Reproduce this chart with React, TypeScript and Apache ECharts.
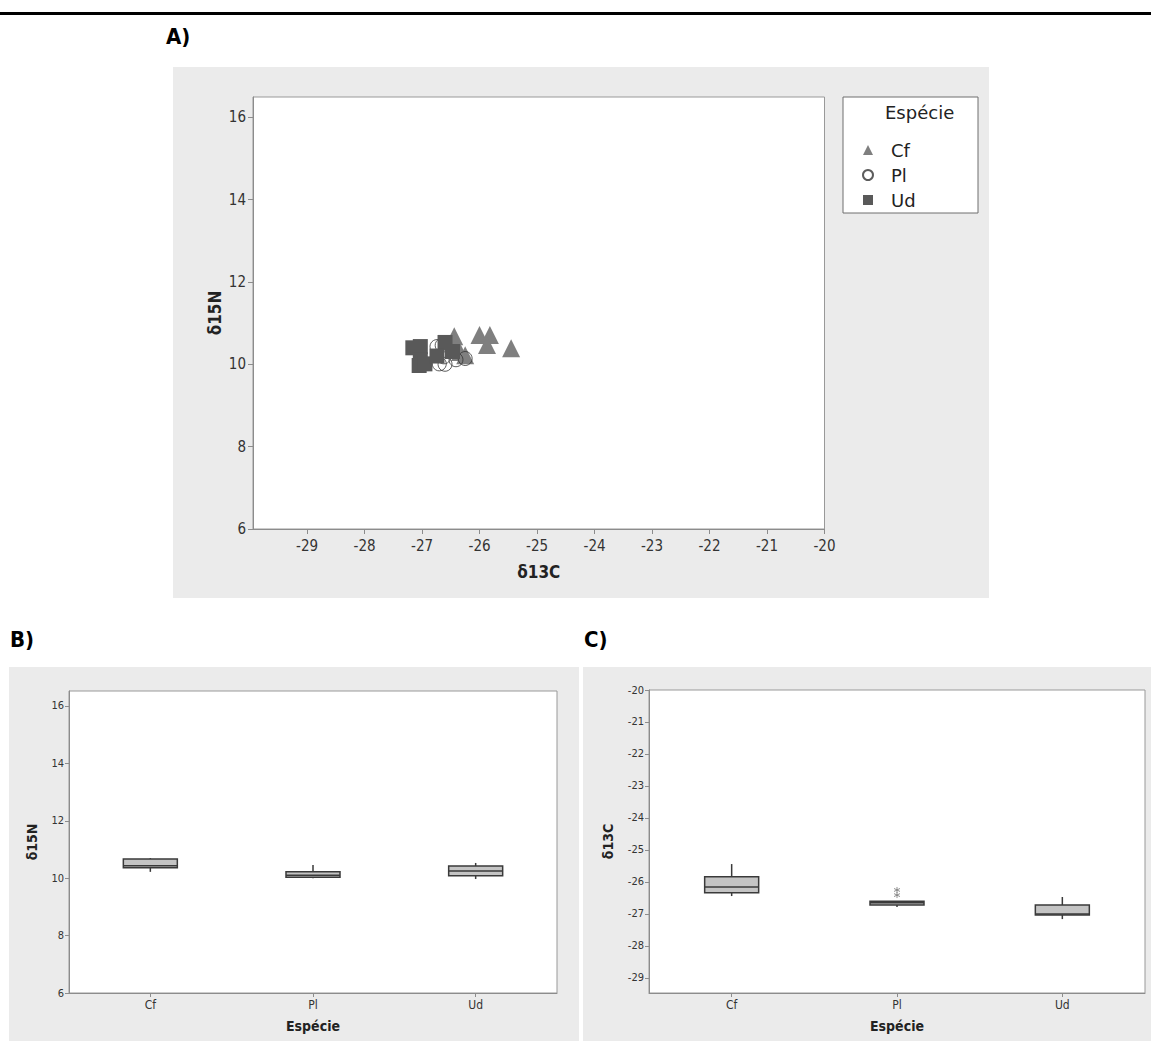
import React, { useEffect, useRef } from "react";
import * as echarts from "echarts";

// ---------- data ----------
const species = ["Cf", "Pl", "Ud"];

// A) scatter δ13C vs δ15N
const cfD13C = [-26.44, -26.34, -26.25, -26.0, -25.82, -25.87, -25.45];
const cfD15N = [10.68, 10.3, 10.22, 10.71, 10.71, 10.47, 10.39];
const plD13C = [-26.74, -26.65, -26.7, -26.6, -26.41, -26.25, -26.62];
const plD15N = [10.43, 10.46, 10.01, 10.0, 10.11, 10.14, 10.18];
const udD13C = [-27.16, -27.03, -27.03, -27.05, -26.95, -26.6, -26.47, -26.74];
const udD15N = [10.4, 10.43, 10.11, 9.97, 10.01, 10.53, 10.31, 10.2];

const xTicksA = [-29, -28, -27, -26, -25, -24, -23, -22, -21, -20];
const yTicksN = [6, 8, 10, 12, 14, 16];
const yTicksC = [-29, -28, -27, -26, -25, -24, -23, -22, -21, -20];

// B) box plot δ15N by species
const nMin = [10.22, 10.0, 9.97];
const nQ1 = [10.36, 10.03, 10.08];
const nMed = [10.43, 10.1, 10.25];
const nQ3 = [10.67, 10.22, 10.42];
const nMax = [10.7, 10.46, 10.53];

// C) box plot δ13C by species
const cMin = [-26.44, -26.78, -27.16];
const cQ1 = [-26.34, -26.72, -27.03];
const cMed = [-26.16, -26.65, -27.0];
const cQ3 = [-25.84, -26.6, -26.72];
const cMax = [-25.44, -26.6, -26.47];
const outlierSpecies = ["Pl", "Pl"];
const outlierD13C = [-26.25, -26.41];

// ---------- helpers ----------
const FONT = "'DejaVu Sans Condensed', 'DejaVu Sans', 'Noto Sans', sans-serif";
const LEG_FONT = "'DejaVu Sans', 'Noto Sans', sans-serif";
const LABEL_FONT = "'Liberation Sans Narrow', 'DejaVu Sans Condensed', sans-serif";

function boxRender(_params: any, api: any) {
  const xi = api.value(0);
  const pMin = api.coord([xi, api.value(1)]);
  const pQ1 = api.coord([xi, api.value(2)]);
  const pMed = api.coord([xi, api.value(3)]);
  const pQ3 = api.coord([xi, api.value(4)]);
  const pMax = api.coord([xi, api.value(5)]);
  const half = 27;
  const cx = pMin[0];
  const stroke = { stroke: "#3a3a3a", lineWidth: 1.5 };
  return {
    type: "group",
    children: [
      { type: "line", shape: { x1: cx, y1: pMax[1], x2: cx, y2: pQ3[1] }, style: stroke },
      { type: "line", shape: { x1: cx, y1: pQ1[1], x2: cx, y2: pMin[1] }, style: stroke },
      {
        type: "rect",
        shape: { x: cx - half, y: pQ3[1], width: 2 * half, height: pQ1[1] - pQ3[1] },
        style: { fill: "#c4c4c4", stroke: "#3a3a3a", lineWidth: 1.5 },
      },
      { type: "line", shape: { x1: cx - half, y1: pMed[1], x2: cx + half, y2: pMed[1] }, style: stroke },
    ],
  };
}

const zip = (a: number[], b: number[]) => a.map((v, i) => [v, b[i]]);

function valueAxisCommon(fontSize: number) {
  return {
    axisLine: { show: true, lineStyle: { color: "#8c8c8c", width: 1 } },
    axisTick: { show: true, inside: false, length: 4, lineStyle: { color: "#8c8c8c" } },
    splitLine: { show: false },
    axisLabel: { color: "#333", fontSize, fontFamily: FONT },
  };
}

export default function App() {
  const ref = useRef<HTMLDivElement>(null);

  useEffect(() => {
    document.body.style.margin = "0";
    if (!ref.current) return;
    const chart = echarts.init(ref.current, undefined, { renderer: "svg" });

    const option: any = {
      animation: false,
      backgroundColor: "#ffffff",
      textStyle: { fontFamily: FONT },
      graphic: [
        { type: "rect", z: -10, shape: { x: 0, y: 12, width: 1151, height: 3 }, style: { fill: "#000" } },
        { type: "rect", z: -10, shape: { x: 173, y: 67, width: 816, height: 531 }, style: { fill: "#ebebeb" } },
        { type: "rect", z: -10, shape: { x: 9, y: 667, width: 570, height: 374 }, style: { fill: "#ebebeb" } },
        { type: "rect", z: -10, shape: { x: 583, y: 667, width: 568, height: 374 }, style: { fill: "#ebebeb" } },
        {
          type: "text", x: 166, y: 25,
          style: { text: "A)", fill: "#000", font: `bold 22px ${LABEL_FONT}` },
        },
        {
          type: "text", x: 10, y: 628,
          style: { text: "B)", fill: "#000", font: `bold 22px ${LABEL_FONT}` },
        },
        {
          type: "text", x: 584, y: 628,
          style: { text: "C)", fill: "#000", font: `bold 22px ${LABEL_FONT}` },
        },
        {
          type: "rect", z: 5, shape: { x: 843, y: 97, width: 135, height: 116 },
          style: { fill: "#fff", stroke: "#6e6e6e", lineWidth: 1 },
        },
        {
          type: "text", z: 6, x: 885, y: 103,
          style: { text: "Espécie", fill: "#222", font: `18px ${LEG_FONT}` },
        },
      ],
      legend: {
        z: 10,
        orient: "vertical",
        left: 857,
        top: 135,
        itemWidth: 10,
        itemHeight: 10,
        itemGap: 5,
        textStyle: { fontSize: 18, color: "#222", fontFamily: LEG_FONT, lineHeight: 20, padding: [0, 0, 0, 13] },
        data: species,
      },
      grid: [
        { left: 253, top: 97, width: 571.5, height: 432, show: true, backgroundColor: "#fff", borderColor: "#999", borderWidth: 1 },
        { left: 69, top: 691, width: 488, height: 302, show: true, backgroundColor: "#fff", borderColor: "#999", borderWidth: 1 },
        { left: 649, top: 690, width: 496, height: 303, show: true, backgroundColor: "#fff", borderColor: "#999", borderWidth: 1 },
      ],
      xAxis: [
        {
          gridIndex: 0, type: "value", min: -29.94, max: -20,
          ...valueAxisCommon(15),
          axisLabel: { color: "#333", fontSize: 15, fontFamily: FONT, customValues: xTicksA, margin: 9 },
          axisTick: { show: true, length: 5, lineStyle: { color: "#8c8c8c" }, customValues: xTicksA },
          name: "δ13C", nameLocation: "middle", nameGap: 34,
          nameTextStyle: { fontSize: 17, fontWeight: "bold", color: "#222", fontFamily: FONT },
        },
        {
          gridIndex: 1, type: "category", data: species, boundaryGap: true,
          axisLine: { show: true, lineStyle: { color: "#8c8c8c" } },
          axisTick: { show: true, alignWithLabel: true, length: 4, lineStyle: { color: "#8c8c8c" } },
          axisLabel: { color: "#333", fontSize: 12, fontFamily: FONT, margin: 6 },
          name: "Espécie", nameLocation: "middle", nameGap: 26,
          nameTextStyle: { fontSize: 14, fontWeight: "bold", color: "#222", fontFamily: FONT },
        },
        {
          gridIndex: 2, type: "category", data: species, boundaryGap: true,
          axisLine: { show: true, lineStyle: { color: "#8c8c8c" } },
          axisTick: { show: true, alignWithLabel: true, length: 4, lineStyle: { color: "#8c8c8c" } },
          axisLabel: { color: "#333", fontSize: 12, fontFamily: FONT, margin: 6 },
          name: "Espécie", nameLocation: "middle", nameGap: 26,
          nameTextStyle: { fontSize: 14, fontWeight: "bold", color: "#222", fontFamily: FONT },
        },
      ],
      yAxis: [
        {
          gridIndex: 0, type: "value", min: 6, max: 16.49,
          ...valueAxisCommon(15),
          axisLabel: { color: "#333", fontSize: 15, fontFamily: FONT, customValues: yTicksN, margin: 7 },
          axisTick: { show: true, length: 5, lineStyle: { color: "#8c8c8c" }, customValues: yTicksN },
          name: "δ15N", nameLocation: "middle", nameGap: 30, nameRotate: 90,
          nameTextStyle: { fontSize: 17, fontWeight: "bold", color: "#222", fontFamily: FONT },
        },
        {
          gridIndex: 1, type: "value", min: 6, max: 16.52,
          ...valueAxisCommon(11),
          axisLabel: { color: "#333", fontSize: 11, fontFamily: FONT, customValues: yTicksN, margin: 5 },
          axisTick: { show: true, length: 4, lineStyle: { color: "#8c8c8c" }, customValues: yTicksN },
          name: "δ15N", nameLocation: "middle", nameGap: 30, nameRotate: 90,
          nameTextStyle: { fontSize: 14, fontWeight: "bold", color: "#222", fontFamily: FONT },
        },
        {
          gridIndex: 2, type: "value", min: -29.47, max: -20,
          ...valueAxisCommon(11),
          axisLabel: { color: "#333", fontSize: 11, fontFamily: FONT, customValues: yTicksC, margin: 5 },
          axisTick: { show: true, length: 4, lineStyle: { color: "#8c8c8c" }, customValues: yTicksC },
          name: "δ13C", nameLocation: "middle", nameGap: 34, nameRotate: 90,
          nameTextStyle: { fontSize: 14, fontWeight: "bold", color: "#222", fontFamily: FONT },
        },
      ],
      series: [
        {
          name: "Cf", type: "scatter", xAxisIndex: 0, yAxisIndex: 0,
          symbol: "triangle", symbolSize: 18,
          itemStyle: { color: "#7f7f7f", opacity: 1 },
          data: zip(cfD13C, cfD15N),
        },
        {
          name: "Pl", type: "scatter", xAxisIndex: 0, yAxisIndex: 0,
          symbol: "circle", symbolSize: 14,
          itemStyle: { color: "rgba(255,255,255,0)", borderColor: "#333", borderWidth: 1 },
          data: zip(plD13C, plD15N),
        },
        {
          name: "Ud", type: "scatter", xAxisIndex: 0, yAxisIndex: 0,
          symbol: "rect", symbolSize: 15,
          itemStyle: { color: "#595959", opacity: 1 },
          data: zip(udD13C, udD15N),
        },
        {
          type: "custom", xAxisIndex: 1, yAxisIndex: 1,
          renderItem: boxRender,
          encode: { x: 0, y: [1, 2, 3, 4, 5] },
          data: species.map((_s, i) => [i, nMin[i], nQ1[i], nMed[i], nQ3[i], nMax[i]]),
        },
        {
          type: "custom", xAxisIndex: 2, yAxisIndex: 2,
          renderItem: boxRender,
          encode: { x: 0, y: [1, 2, 3, 4, 5] },
          data: species.map((_s, i) => [i, cMin[i], cQ1[i], cMed[i], cQ3[i], cMax[i]]),
        },
        {
          type: "scatter", xAxisIndex: 2, yAxisIndex: 2,
          symbol: "path://M0,-1L0,1M-0.87,-0.5L0.87,0.5M-0.87,0.5L0.87,-0.5",
          symbolSize: 6,
          itemStyle: { color: "none", borderColor: "#777", borderWidth: 1 },
          data: outlierSpecies.map((s, i) => [s, outlierD13C[i]]),
        },
      ],
    };

    chart.setOption(option);
    return () => chart.dispose();
  }, []);

  return <div ref={ref} style={{ width: 1151, height: 1041 }} />;
}
